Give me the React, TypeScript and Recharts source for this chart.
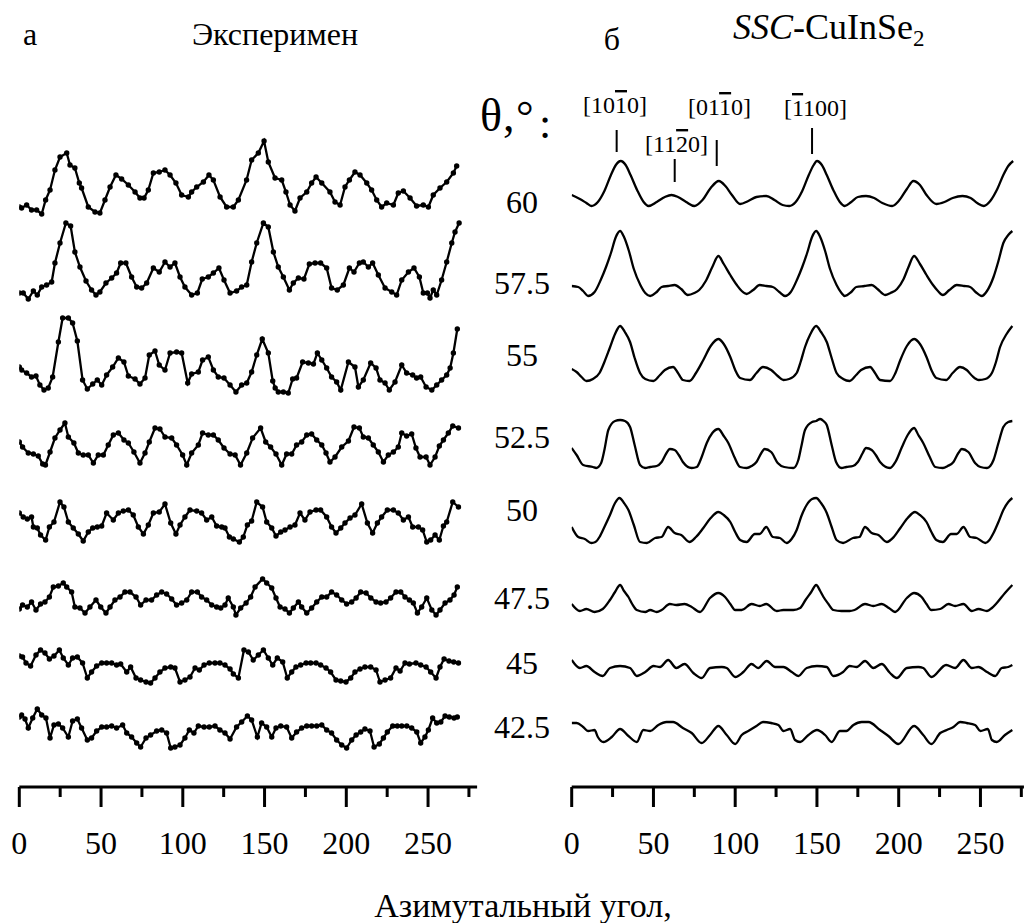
import { LineChart, Line, XAxis, YAxis, ReferenceLine } from 'recharts';

type Pt = [number, number];

const SERIF = "'Liberation Serif', 'Times New Roman', serif";

// azimuthal angle ticks (deg), labels only on multiples of 50
const angleTicks = [0, 25, 50, 75, 100, 125, 150, 175, 200, 225, 250, 275];
const thetaLabels = ['60', '57.5', '55', '52.5', '50', '47.5', '45', '42.5'];

// experiment (panel a), [angle, intensity]
const exp60: Pt[] = [[0,8],[1.4,7],[4.5,10],[7.5,5],[10.6,5],[13.7,1],[16.1,15],[18.8,25],[21.8,45],[24.9,58],[29,62],[31,50],[34,47],[36.7,32],[38.1,27],[42.2,8],[46.3,3],[49.3,2],[52.4,15],[55.5,28],[59.1,40],[62.6,36],[66.7,30],[70.8,23],[73.8,17],[76.3,17],[78.9,25],[82,42],[85.6,43],[89.1,45],[92.2,40],[95.8,32],[99.3,20],[103.4,18],[105.4,23],[108.5,28],[112.6,33],[116,40],[118.7,35],[122.8,18],[126.8,8],[130.9,8],[134,15],[139,35],[142.1,55],[146.2,62],[149.7,74],[152.3,53],[156.4,37],[160.5,35],[163.1,23],[165.6,10],[168.6,4],[171.7,17],[175.8,23],[178.8,32],[181.5,38],[185,32],[190,23],[193.1,13],[196.2,10],[199.2,28],[201.9,35],[205.3,43],[208.4,40],[212.5,32],[215.5,25],[218.6,15],[221.6,8],[224.7,12],[228.8,10],[231.8,22],[234.9,24],[239,17],[243,9],[247.1,10],[250.2,8],[253.2,20],[257.3,27],[261.4,33],[265.5,42],[267.5,49]];
const exp575: Pt[] = [[0,7],[2.4,7],[5.5,1],[8.6,9],[11,5],[13.7,13],[16.7,15],[19.8,18],[21.8,37],[24.9,57],[28.5,77],[31.4,74],[34,48],[37.1,33],[40.8,19],[44.2,10],[46.9,5],[49.3,8],[53,17],[56.5,22],[59.5,27],[62,37],[65.2,37],[68.7,23],[71.8,13],[74.8,12],[77.9,17],[82,32],[85.6,28],[89.1,38],[92.2,33],[95.2,37],[98.3,23],[101.3,13],[105.4,5],[108.9,7],[111.9,21],[115.6,23],[118.7,27],[122.1,32],[125.2,20],[128.9,7],[132.9,9],[136,13],[139.1,15],[142.1,38],[145.2,57],[149.3,77],[152.3,73],[155.4,48],[158.4,33],[161.5,23],[165.2,10],[167.6,17],[170.7,22],[174.1,21],[177.4,36],[180.9,37],[184.3,37],[188,32],[191,12],[194.5,10],[198.2,15],[201.9,32],[204.7,28],[208,37],[210.4,38],[213.5,33],[216.1,37],[219.6,25],[223.7,12],[227.8,8],[230.8,5],[233.9,20],[238,28],[241.4,32],[244.7,23],[247.1,7],[249.6,7],[251.2,2],[253.2,10],[255.3,5],[258.3,20],[261.4,38],[264.5,57],[266.5,68],[269,77]];
const exp55: Pt[] = [[0,29],[1.4,26],[4.5,23],[7.5,19],[10.2,20],[12.6,11],[15.1,6],[17.7,8],[20.4,19],[23.9,54],[26.5,78],[30,78],[32.6,73],[35.5,55],[38.7,16],[41.6,7],[44.9,12],[47.7,16],[50.4,11],[53.4,21],[57.1,29],[60.6,38],[64,34],[66.7,20],[70.8,17],[73.8,12],[76.9,18],[79.5,41],[83,45],[85.6,31],[89.1,26],[92.2,43],[96.2,44],[99.3,43],[103,13],[105.4,22],[109.5,24],[112.1,36],[115.6,39],[118.7,26],[121.7,19],[125.2,18],[128.9,11],[132.5,4],[136,11],[139.1,13],[142.1,24],[145.2,41],[148.6,57],[152.3,43],[155,15],[156.5,8],[158.4,4],[161.5,4],[164.5,3],[167.2,17],[169.6,18],[173.3,34],[176.8,33],[179.9,32],[182.3,43],[185,36],[188,28],[191,19],[194.1,14],[196.6,6],[201.3,34],[205.3,29],[207.4,9],[210.4,16],[214.9,33],[218.2,28],[220.6,16],[223.7,13],[226.3,6],[229.8,14],[233.9,31],[236.9,23],[240.6,21],[243,18],[245.5,19],[248.8,9],[252.3,6],[255.3,11],[258.3,16],[261.4,21],[263.5,28],[265.5,43],[267.9,67]];
const exp525: Pt[] = [[0,24],[2,19],[5.5,13],[8.6,12],[11.6,10],[14.3,2],[16,1],[18.8,14],[21.8,28],[24.9,36],[27.9,43],[30,29],[33.4,23],[36.1,13],[39.1,11],[42.2,11],[45.3,3],[48.3,11],[51.4,11],[54.4,21],[57.5,31],[60.6,33],[64,26],[66.7,23],[70.1,14],[73.8,3],[76.9,13],[79.5,24],[83,38],[86,37],[89.1,29],[93.2,28],[96.2,21],[99.9,11],[102.4,1],[105.4,13],[109.5,21],[112.1,33],[115.6,31],[118.7,31],[121.7,26],[125.2,18],[128.9,12],[132,11],[135.3,1],[139.1,13],[142.7,28],[147.6,38],[150.7,24],[153.7,19],[157,12],[160.5,1],[163.5,12],[166.6,12],[169.6,21],[172.7,24],[175.8,31],[178.8,32],[181.9,26],[185,21],[187.6,13],[190,4],[193.1,9],[197.2,19],[201.3,25],[204.7,39],[208,38],[210.4,29],[213.5,28],[216.5,21],[219.6,14],[222.7,4],[225.7,11],[228.8,14],[231.8,19],[233.9,33],[236.9,30],[240,32],[242.6,18],[245.1,9],[248.8,9],[251.2,1],[254.3,9],[256.9,20],[259.4,26],[262.4,33],[265.1,40],[268.6,38]];
const exp50: Pt[] = [[0,32],[2.4,28],[4.9,26],[7.5,28],[8.6,18],[11,17],[13,10],[16.1,5],[18.4,18],[21.2,23],[24.9,43],[27.3,38],[30,23],[33,17],[36.1,11],[39.1,4],[42.2,13],[44.9,17],[47.7,18],[50.4,19],[53.4,32],[57.5,25],[60.6,32],[63.6,34],[66.7,35],[69.7,30],[72.8,18],[75.9,11],[78.9,20],[82,32],[85.6,33],[89.1,41],[92.6,22],[95.8,11],[98.3,20],[101.3,28],[104.4,35],[108.5,34],[111.5,32],[114.6,25],[117.7,28],[120.7,19],[123.8,18],[125.8,17],[128.5,8],[130.9,6],[134.6,3],[137,8],[139.5,20],[142.1,24],[145.2,43],[148.8,38],[151.3,23],[154.4,17],[157,9],[159.9,13],[162.5,15],[165.6,18],[168.6,20],[171.7,32],[174.7,25],[177.8,33],[181.5,35],[184.3,35],[188,28],[191,18],[193.7,12],[196.6,17],[199.2,22],[202.3,27],[205.3,30],[209.4,41],[212.9,22],[216.1,12],[219,22],[221.6,28],[225.1,35],[228.8,35],[231.8,32],[234.9,25],[238,28],[240.6,18],[244.1,18],[246.7,15],[249.2,3],[251.6,5],[254.3,10],[256.9,5],[259.4,19],[261.4,23],[265.1,43],[268.6,38]];
const exp475: Pt[] = [[0,9],[2,13],[4.9,11],[7.5,16],[10.2,8],[13,14],[15.7,16],[18.4,21],[20.8,31],[23.9,32],[26.9,35],[29,31],[32,26],[34,11],[37.1,10],[40.2,5],[43.2,11],[46.9,18],[49.8,11],[53,5],[55.5,11],[58.5,18],[61.6,21],[64.6,26],[67.7,26],[71.4,21],[74.2,13],[77.5,18],[80.9,18],[84,23],[87.1,26],[90.1,24],[93.2,19],[96.2,13],[99.3,15],[102.4,18],[105.4,26],[108.9,26],[111.5,21],[114.6,18],[117.7,13],[120.7,11],[123.2,10],[125.8,13],[127.8,20],[130.9,11],[132.5,3],[135.4,10],[138.7,15],[141.5,21],[144.2,31],[148.8,39],[151.3,35],[154.4,30],[157,20],[159.5,11],[162.5,9],[165.2,5],[167.6,10],[170.7,16],[172.7,11],[175.8,5],[178.8,10],[181.9,16],[185,21],[188,21],[191,26],[194.1,23],[197.2,18],[200.2,14],[203.3,16],[206,20],[208.8,26],[212.1,25],[215,20],[218.2,16],[221,15],[224.3,16],[227.1,20],[230.4,26],[233.3,26],[235.9,21],[238.6,18],[241,15],[243.5,5],[246.1,11],[249.2,20],[252.3,8],[254.9,3],[257.3,8],[260.4,15],[263.4,18],[265.9,23],[267.9,31]];
const exp45: Pt[] = [[0,30],[2,29],[4.1,23],[6.9,20],[10.2,31],[13,36],[15.7,33],[18.4,27],[21.2,30],[24.5,36],[26.9,28],[30,21],[32.6,28],[35.5,29],[38.7,23],[41.6,8],[44.2,14],[47.3,20],[50.4,23],[53.4,23],[56.5,23],[59.5,21],[62,22],[65.7,14],[68.1,19],[71.4,8],[74.2,6],[77.5,4],[80.3,3],[83,8],[86,14],[89.1,18],[92.6,19],[95.2,18],[98.3,4],[101.3,6],[104.4,9],[107.5,18],[110.1,16],[113,21],[116.2,23],[119.7,23],[122.7,23],[125.8,21],[128.9,17],[130.9,12],[134,8],[137.4,36],[140.1,34],[143.1,26],[146.2,31],[149.3,36],[152.3,28],[155,21],[157.8,28],[161.1,24],[163.9,8],[166.6,14],[169.2,19],[172.1,21],[175.4,23],[178.2,23],[181.5,23],[184.3,21],[187.6,18],[190.4,14],[193.7,6],[196.6,5],[199.8,4],[202.7,8],[205.3,14],[208.4,17],[211.4,19],[214.9,19],[218.2,16],[220.6,4],[223.7,6],[227.1,8],[230.4,18],[232.9,15],[235.9,23],[238.6,22],[242.6,23],[245.5,21],[248.8,19],[251.6,14],[254.9,8],[257.3,19],[259.8,27],[262.8,25],[265.7,24],[268.6,23]];
const exp425: Pt[] = [[0,35],[1.4,37],[3.5,33],[5.5,24],[8.2,34],[11,43],[13.7,37],[16.3,34],[18.8,14],[21.2,27],[23.9,28],[26.5,24],[30,15],[32.6,31],[35.5,33],[38.1,24],[41.6,12],[44.2,14],[47.3,21],[50.4,25],[53.4,25],[56.5,26],[59.5,24],[63.2,27],[65.7,19],[68.7,15],[71.8,9],[74.2,5],[77.5,14],[80.3,17],[84,21],[87.1,22],[90.1,19],[92.6,4],[95.2,5],[98.3,7],[101.3,14],[104,22],[106.8,19],[109.5,26],[113,25],[116.2,25],[119.7,26],[122.7,22],[125.8,19],[128.9,13],[132.9,25],[136,30],[139.5,36],[142.1,32],[145.6,15],[148.2,29],[151.3,25],[154.4,15],[157,24],[159.9,26],[163.5,25],[166.6,14],[169.6,20],[172.7,24],[175.8,26],[178.8,26],[181.9,26],[185,27],[188,22],[191,19],[194.1,12],[197.2,7],[200.2,4],[203.3,12],[206,17],[208.8,20],[211.4,23],[214.5,21],[217,5],[220.2,8],[222.7,14],[225.1,20],[228.4,26],[231.2,26],[233.9,26],[237,26],[240,24],[243.1,20],[245.5,9],[248.1,15],[250.2,22],[252.8,34],[255.3,29],[257.8,30],[260.4,36],[263,35],[265.9,34],[267.9,35]];

// SSC-CuInSe2 simulation (panel б), [angle, intensity]
const sim60: Pt[] = [[0,12],[5,8],[9,4],[12,1],[16,5],[20,16],[24,32],[27,42],[30,46],[33,42],[36,32],[40,17],[44,5],[47,1],[52,5],[57,10],[61,12],[65,10],[70,5],[75,1],[80,7],[85,19],[90,26],[94,21],[98,12],[103,3],[108,6],[113,10],[119,11],[124,7],[129,2],[133,1],[137,5],[141,16],[145,32],[148,42],[150,46],[153,42],[156,32],[160,17],[164,5],[167,1],[171,5],[175,10],[180,11],[185,9],[190,4],[196,1],[200,6],[205,18],[209,26],[213,22],[217,12],[223,3],[228,5],[233,9],[239,11],[244,9],[248,4],[252,1],[256,6],[260,17],[264,32],[267,41],[270,46]];
const sim575: Pt[] = [[0,11],[4,10],[7,6],[10,1],[14,5],[18,18],[21,30],[24,44],[27,60],[29.6,66],[32,60],[35,46],[38,28],[42,12],[45,4],[48,1],[52,5],[55,10],[59,11],[63,12],[67,8],[71,2],[75,4],[78,7],[82,16],[86,30],[89.7,41],[93,33],[97,22],[101,12],[104,6],[107,3],[111,7],[115,12],[119,11],[123,10],[127,5],[130.5,1],[134,5],[138,18],[141,30],[144,44],[147,60],[149.5,66],[152,60],[155,46],[158,28],[162,12],[165,4],[167,1],[171,5],[174,10],[179,11],[183.5,12],[187,8],[191.7,2],[195,4],[199,8],[203,18],[206,30],[209.4,41],[213,33],[217,22],[221,12],[224,6],[227,2],[231,7],[235.5,12],[240,11],[243.7,10],[247,5],[250.8,1],[254,6],[258,20],[261,36],[264,54],[267,62],[269.5,66]];
const sim55: Pt[] = [[0,13],[3,10],[6,5],[9,1],[13,3],[17,9],[20,20],[23.5,35],[26.5,48],[29.6,56],[32.5,50],[35.7,40],[38.5,24],[41.8,9],[45,3],[50,1],[54,7],[57,12],[62,15],[65,9],[68,2],[72,1],[76,9],[80.5,22],[85,36],[89.7,43],[93,38],[97,25],[100,12],[103,4],[109,2],[113,9],[117,15],[122,12],[126,6],[129.5,2],[133,3],[137.6,9],[140,20],[142.7,35],[146,48],[149.5,56],[152.5,50],[156,40],[159,24],[162,9],[166,3],[170,1],[174,7],[177,12],[182.5,15],[185.5,9],[188.6,2],[194.7,1],[198,9],[201,22],[205,36],[209.4,43],[213,38],[217,25],[220,12],[223,4],[229,2],[233,9],[237.5,15],[241.6,12],[245,6],[249,2],[253,3],[257,9],[259.5,20],[262,35],[266,48],[269.5,56]];
const sim525: Pt[] = [[0,22],[3,15],[7,5],[13,3],[15,2],[18,7],[20,20],[22.4,40],[26.5,49],[29.6,50],[32.6,49],[35.7,43],[38.5,25],[41.8,5],[44.9,2],[48,3],[52,4],[55,8],[58,17],[60,21],[63,20],[65.5,15],[68,8],[73.4,2],[76.5,3],[79.5,13],[82.6,27],[86,37],[89.7,41],[93,34],[95.8,27],[99.5,13],[103,3],[107,2],[110,4],[113,8],[116,17],[118,21],[122,18],[126,7],[130,3],[135.6,2],[138.6,10],[140.5,24],[142.7,40],[147,48],[149.5,49],[152,51],[154,49],[156,45],[159,25],[161.7,8],[165,2],[168,3],[172,4],[175,8],[178,17],[180,22],[183.5,20],[186,15],[188.6,8],[194.7,2],[198,8],[202,23],[205.5,35],[209.4,42],[212,35],[215,27],[219,13],[222.4,3],[227,2],[230,4],[233.5,8],[236.5,17],[238.6,21],[242.6,18],[246.7,7],[250,3],[254,2],[256,4],[258,10],[261,27],[264,43],[267,48],[269.5,49]];
const sim50: Pt[] = [[0,18],[4,8],[8,6],[12,2],[14.5,3],[17,8],[20,18],[23.4,30],[26.5,42],[29.2,47],[32,42],[34.7,35],[38,20],[41.8,3],[46,2],[51,7],[55,8],[59,18],[63,12],[67,10],[72,3],[76,8],[80.5,17],[85,27],[89.7,33],[93,30],[97,23],[100,13],[103,5],[107,3],[112,11],[115,11],[119,18],[123,8],[127.4,7],[131.5,2],[134.5,6],[137.6,15],[140.5,29],[143.7,40],[147,46],[149.5,47],[152.5,42],[156,32],[159,18],[162,5],[166,2],[172,7],[176,8],[179.4,18],[183.5,12],[187.6,10],[192.7,3],[197,8],[201,17],[205.5,27],[210,33],[213,30],[217,23],[220,13],[223,5],[227,3],[232,11],[235.5,11],[239.6,18],[243.7,8],[247.7,7],[253,2],[255.5,5],[258,12],[261,23],[264,35],[267,43],[269.5,47]];
const sim475: Pt[] = [[0,8],[5,1],[9,3],[14,0],[19,3],[23.4,12],[26.5,20],[29.6,27],[32,21],[34.7,15],[37,8],[39.8,2],[45,0],[48,2],[52,0],[55,2],[60,8],[64,7],[69,8],[73.4,5],[78.5,0],[84.6,14],[89.7,19],[93.8,15],[97,8],[100,2],[104,2],[110,8],[115,6],[119,8],[125.4,1],[129.5,2],[135.6,2],[139.7,4],[143,12],[146.5,20],[149.5,27],[152,21],[154,15],[157,8],[160,2],[165,1],[170,1],[173,2],[179.4,8],[184.5,6],[189.6,8],[194,4],[197.8,0],[205,14],[209.4,19],[214,15],[217,8],[220,2],[225.4,3],[230.4,8],[234.5,6],[239.6,8],[244.7,1],[248.8,3],[254,1],[257,4],[260,9],[265,19],[269.5,27]];
const sim45: Pt[] = [[0,20],[5,12],[9,14],[14,8],[19,4],[23.4,12],[29.6,14],[35.7,12],[39.8,4],[45,8],[50,14],[54,13],[59,20],[64,12],[69,16],[74.4,7],[79.5,2],[84.6,12],[91.8,13],[94.8,12],[100,3],[105,8],[110,16],[114,12],[119.3,19],[124.4,13],[129.5,13],[134.6,8],[138.6,4],[143.7,12],[150,14],[156,13],[160,4],[166,8],[170,14],[174.3,13],[179.4,19],[184.5,12],[189.6,16],[194.7,7],[198.8,2],[205,12],[212,13],[215,12],[220,3],[229,15],[234.5,12],[239.6,20],[244.7,12],[248.8,13],[254,8],[259,4],[263,12],[267,13],[269.5,15]];
const sim425: Pt[] = [[0,23],[3,23],[7,19],[10,15],[14,16],[16,9],[19.4,4],[24.5,9],[29.6,17],[34.7,10],[39.8,4],[43.8,16],[48,15],[53,21],[58,24],[62,24],[68,18],[73.4,13],[79.5,3],[84.6,11],[89.7,20],[94.8,11],[100,2],[104,11],[108,15],[113,20],[117,24],[122,23],[126.4,21],[129.5,15],[133.6,17],[136.6,6],[139.7,4],[144.8,11],[150,16],[155,11],[159,4],[164,15],[168,15],[172.3,21],[177.4,24],[181.5,24],[188.6,16],[193.7,10],[199.8,2],[209.4,20],[215,11],[220,2],[225.4,13],[229.4,16],[233.5,19],[237.6,24],[241.6,23],[246.7,21],[250,15],[254.5,17],[257,6],[260,4],[265,11],[269.5,16]];

const expRows = [exp60, exp575, exp55, exp525, exp50, exp475, exp45, exp425];
const simRows = [sim60, sim575, sim55, sim525, sim50, sim475, sim45, sim425];

// layout: vertical shift of every curve inside the plot (plot units = px)
const PLOT_H = 787;
const expShift = [572, 487, 391, 321, 242, 169, 101, 35];
const simShift = [580, 490, 405, 317, 242, 175, 107, 41];
const labelBaseline = [213, 294, 366, 448, 521, 609, 674, 738];

// direction markers above the 60° simulated curve
const markers = [
  { a: 27.5, from: 635, to: 657 },
  { a: 63, from: 605, to: 628 },
  { a: 88.7, from: 621, to: 647 },
  { a: 147, from: 633, to: 659 },
];

const toData = (pts: Pt[], shift: number) => pts.map(([a, v]) => ({ a, v: v + shift }));

const AngleTick = (props: any) => {
  const { x, y, payload } = props;
  const major = payload.value % 50 === 0;
  return (
    <g>
      <line x1={x} x2={x} y1={y} y2={y + (major ? 20 : 10)} stroke="#000" strokeWidth={3} />
      {major && (
        <text x={x} y={y + 67} textAnchor="middle" fontSize={32} fontFamily={SERIF} fill="#000">
          {payload.value}
        </text>
      )}
    </g>
  );
};

function Panel({ rows, shifts, maxAngle, width, left, smooth }: {
  rows: Pt[][]; shifts: number[]; maxAngle: number; width: number; left: number; smooth?: boolean;
}) {
  return (
    <LineChart width={width} height={860} margin={{ top: 0, right: width - left - maxAngle * 1.635, bottom: 0, left }}>
      <XAxis
        type="number"
        dataKey="a"
        domain={[0, maxAngle]}
        ticks={angleTicks}
        interval={0}
        allowDataOverflow
        height={73}
        tickSize={0}
        tickMargin={0}
        tickLine={false}
        axisLine={{ stroke: '#000', strokeWidth: 3 }}
        tick={<AngleTick />}
      />
      <YAxis hide type="number" domain={[0, PLOT_H]} allowDataOverflow />
      {rows.map((pts, i) => (
        <Line
          key={i}
          data={toData(pts, shifts[i])}
          dataKey="v"
          type={smooth ? 'monotone' : 'linear'}
          stroke="#000"
          strokeWidth={2.3}
          dot={smooth ? false : { r: 2.7, fill: '#000', stroke: '#000', strokeWidth: 0 }}
          activeDot={false}
          isAnimationActive={false}
        />
      ))}
      {smooth &&
        markers.map((m, i) => (
          <ReferenceLine
            key={`m${i}`}
            segment={[{ x: m.a, y: m.from }, { x: m.a, y: m.to }]}
            stroke="#000"
            strokeWidth={2}
          />
        ))}
    </LineChart>
  );
}

const Bar = ({ children }: { children: string }) => (
  <tspan style={{ textDecoration: 'overline' }}>{children}</tspan>
);

export default function App() {
  return (
    <div style={{ position: 'absolute', left: 0, top: 0, width: 1024, height: 923, background: '#fff', fontFamily: SERIF }}>
      <div style={{ position: 'absolute', left: 0, top: 0 }}>
        <Panel rows={expRows} shifts={expShift} maxAngle={280} width={490} left={19.3} />
      </div>
      <div style={{ position: 'absolute', left: 552, top: 0 }}>
        <Panel rows={simRows} shifts={simShift} maxAngle={276.6} width={472} left={19.7} smooth />
      </div>
      <svg width={1024} height={923} style={{ position: 'absolute', left: 0, top: 0, pointerEvents: 'none' }} fontFamily={SERIF} fill="#000">
        <text x={30} y={45} fontSize={32} textAnchor="middle">а</text>
        <text x={275} y={45} fontSize={32} textAnchor="middle">Эксперимен</text>
        <text x={612} y={50} fontSize={32} textAnchor="middle">б</text>
        <text x={733} y={39} fontSize={36}>
          <tspan fontStyle="italic">SSC</tspan>-CuInSe<tspan fontSize={23} dy={7}>2</tspan>
        </text>
        <text x={480} y={131} fontSize={46}>θ</text>
        <text x={503} y={131} fontSize={46}>,</text>
        <text x={516} y={131} fontSize={44}>°</text>
        <text x={539} y={138} fontSize={44}>:</text>
        <text x={583} y={113} fontSize={24}>[10<Bar>1</Bar>0]</text>
        <text x={645} y={152} fontSize={24}>[11<Bar>2</Bar>0]</text>
        <text x={688} y={115} fontSize={24}>[01<Bar>1</Bar>0]</text>
        <text x={784} y={116} fontSize={24}>[<Bar>1</Bar>100]</text>
        {thetaLabels.map((t, i) => (
          <text key={t} x={522} y={labelBaseline[i]} fontSize={32} textAnchor="middle">{t}</text>
        ))}
        <text x={523} y={917} fontSize={34} textAnchor="middle">Азимутальный угол,</text>
      </svg>
    </div>
  );
}
